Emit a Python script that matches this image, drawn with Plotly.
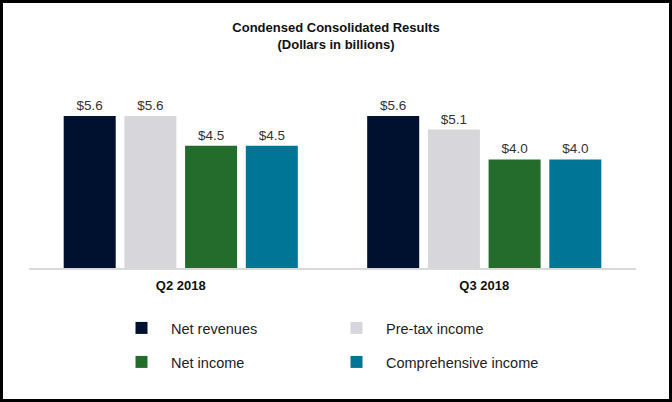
import plotly.graph_objects as go

categories = ["Q2 2018", "Q3 2018"]
series_names = ["Net revenues", "Pre-tax income", "Net income", "Comprehensive income"]
net_revenues = [5.6, 5.6]
pretax_income = [5.6, 5.1]
net_income = [4.5, 4.0]
comprehensive_income = [4.5, 4.0]
colors = ["#00112f", "#d7d6db", "#246c2c", "#007595"]

W, H = 672, 402
L, R, T, B = 29, 36, 78, 134
pw, ph = W - L - R, H - T - B

fig = go.Figure()
values = [net_revenues, pretax_income, net_income, comprehensive_income]
legends = ["legend", "legend", "legend2", "legend2"]
for name, vals, col, lg in zip(series_names, values, colors, legends):
    fig.add_trace(go.Bar(
        x=categories, y=vals, name=name, marker=dict(color=col, line=dict(width=0)),
        texttemplate="$%{y:.1f}", textposition="outside",
        textfont=dict(size=13.5, color="#333333", family="Liberation Sans, Arial"),
        cliponaxis=False, legend=lg,
    ))

leg_common = dict(orientation="h", xanchor="left", yanchor="middle",
                  font=dict(size=14.5, color="#222222", family="Liberation Sans, Arial"),
                  itemwidth=49, entrywidth=151, entrywidthmode="pixels",
                  bgcolor="rgba(0,0,0,0)", itemclick=False, traceorder="normal")

fig.update_layout(
    width=W, height=H,
    margin=dict(l=L, r=R, t=T, b=B),
    paper_bgcolor="white", plot_bgcolor="white",
    barmode="group", bargap=0.2, bargroupgap=0.143,
    title=dict(text="Condensed Consolidated Results<br>(Dollars in billions)",
               x=0.5, xref="container", xanchor="center",
               y=1 - 32 / H, yref="container", yanchor="top",
               font=dict(size=13, color="#111111", family="Liberation Sans, Arial", weight="bold")),
    xaxis=dict(showline=True, linecolor="#d9d9d9", linewidth=2, showgrid=False, ticks="",
               ticklabelstandoff=4,
               tickfont=dict(size=13, color="#111111", family="Liberation Sans, Arial", weight="bold"),
               fixedrange=True),
    yaxis=dict(range=[0, 7], visible=False, fixedrange=True),
    legend=dict(x=(112 - L) / pw, y=-(328 - (H - B)) / ph, **leg_common),
    legend2=dict(x=(112 - L) / pw, y=-(362 - (H - B)) / ph, **leg_common),
    showlegend=True,
)

fig.add_shape(type="rect", xref="paper", yref="paper",
              x0=(-L + 1.5) / pw, x1=(pw + R - 1.5) / pw,
              y0=(-B + 1.5) / ph, y1=(ph + T - 1.5) / ph,
              line=dict(color="black", width=3), fillcolor="rgba(0,0,0,0)", layer="above")

fig.write_html("out.html", config={"displayModeBar": False},
               post_script="document.body.style.margin='0';document.body.style.overflow='hidden';")
